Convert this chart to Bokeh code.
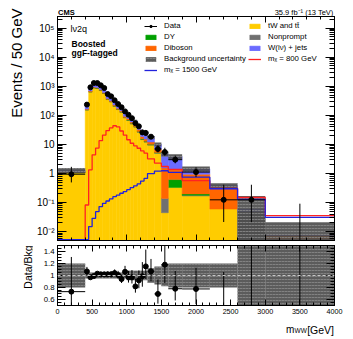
import math
import numpy as np
from bokeh.plotting import figure
from bokeh.layouts import column, row
from bokeh.models import (ColumnDataSource, Range1d, FixedTicker, CustomJSTickFormatter,
                          LinearAxis, LogAxis, Legend, LegendItem, Label, Span)
from bokeh.embed import file_html
from bokeh.resources import INLINE

# ------------------------------------------------------------------ data
bin_edges = [0, 400, 450, 500, 550, 600, 650, 700, 750, 800, 850, 900, 950, 1000,
             1050, 1100, 1150, 1200, 1250, 1300, 1400, 1500, 1600, 1800, 2200, 2600, 3000, 4000]

# data (events / 50 GeV) and raw event counts
data_values = [0.95, 234, 920, 1290, 1290, 1080, 870, 540, 450, 330, 245, 190, 137, 105,
               80, 54, 42, 26, 25, 18.5, 7, 5.5, 3.0, 1.125, 0.125, 0.125, 0]
data_counts = [4, 234, 920, 1290, 1290, 1080, 870, 540, 450, 330, 245, 190, 137, 105,
               80, 54, 42, 26, 25, 37, 14, 11, 12, 9, 1, 1, 0]

bkg_ttbar = [1.05, 153, 635, 873, 839, 710, 563, 349, 291, 206, 158, 129, 82.6, 67,
             51, 39.6, 26.5, 14.7, 12.1, 9.5, 5.0, 0.045, 0.33, 0.17, 0.06, 0.0, 0.0]
bkg_nonprompt = [0.02, 2.2, 9.5, 13, 12.5, 10.5, 8.5, 5.3, 4.4, 3.2, 2.4, 2.0, 1.3, 1.1,
                 0.8, 0.7, 0.5, 0.3, 0.2, 0.2, 0.1, 0.095, 0.0, 0.01, 0.0, 0.05, 0.0056]
bkg_dy = [0.01, 2.2, 9.5, 13, 12.5, 10.5, 8.5, 5.3, 4.4, 3.2, 2.4, 2.0, 1.3, 1.6,
          1.3, 1.3, 0.9, 0.8, 0.6, 0.4, 0.2, 0.0, 0.29, 0.02, 0.0, 0.0, 0.0]
bkg_diboson = [0.04, 6.6, 38, 52, 50, 42, 34, 21.4, 17.6, 15.8, 12.2, 12.1, 7.7, 8.1,
               6.3, 5.9, 4.6, 2.9, 2.4, 2.1, 1.6, 1.42, 0.75, 0.75, 0.24, 0.0, 0.0017]
bkg_wjets = [0.18, 55, 256, 352, 338, 286, 239, 148, 123.6, 88.8, 68, 56.9, 36.1, 30.2,
             23.1, 18.5, 13.2, 7.6, 6.4, 5.1, 3.2, 3.1, 2.48, 0.5, 0.09, 0.01, 0.0002]
bkg_rel_unc = [0.2, 0.05, 0.05, 0.05, 0.05, 0.05, 0.05, 0.05, 0.05, 0.05, 0.05, 0.05, 0.05,
               0.08, 0.08, 0.08, 0.08, 0.08, 0.08, 0.12, 0.15, 0.18, 0.2, 0.2, 0.2, 1.83, 1.8]

signal_800 = [0, 0.083, 1.34, 4.4, 7.5, 13.5, 21, 30, 37, 44, 40, 29, 21, 14.5,
              11, 9, 7.4, 6, 5, 3.2, 2.3, 1.75, 1.4, 0.57, 0.31, 0.15, 0.036]
signal_1500 = [0, 0, 0.015, 0.029, 0.049, 0.073, 0.095, 0.114, 0.134, 0.16, 0.18, 0.21, 0.24, 0.28,
               0.33, 0.38, 0.44, 0.55, 0.68, 1.0, 1.22, 1.25, 1.1, 0.75, 0.3, 0.13, 0.031]

x_major_main = [0, 1000, 2000, 3000, 4000]
x_major_ratio = [0, 500, 1000, 1500, 2000, 2500, 3000, 3500, 4000]
x_tick_labels = ["0", "500", "1000", "1500", "2000", "2500", "3000", "3500", "4000"]
y_tick_values = [0.01, 0.1, 1, 10, 100, 1000, 10000, 100000]
y_tick_labels = ["10\u207b\u00b2", "10\u207b\u00b9", "1", "10", "10\u00b2", "10\u00b3", "10\u2074", "10\u2075"]
ratio_tick_values = [0.6, 0.8, 1.0, 1.2, 1.4]
ratio_tick_labels = ["0.6", "0.8", "1", "1.2", "1.4"]

# Garwood 68% intervals for small counts
garwood_lo = [0.0, 0.173, 0.708, 1.367, 2.086, 2.840, 3.620, 4.419, 5.232, 6.057, 6.891]
garwood_hi = [1.841, 3.300, 4.638, 5.918, 7.163, 8.382, 9.584, 10.77, 11.95, 13.11, 14.27]

# ------------------------------------------------------------------ derived
FONT = "Liberation Sans"
C_TT, C_NP, C_DY, C_VV, C_WJ = "#ffcc00", "#707070", "#00a000", "#ff6600", "#6b6bff"
C_BAND, C_HATCH, C_S800, C_S1500 = "#4a4a4a", "#8c8c8c", "#ff2222", "#2222dd"
YMIN, YMAX = 0.005, 2.5e5
FLOOR = 1e-4

edges = np.array(bin_edges, float)
left, right = edges[:-1], edges[1:]
center, width = 0.5 * (left + right), right - left

comps = [np.array(bkg_ttbar, float), np.array(bkg_nonprompt, float), np.array(bkg_dy, float),
         np.array(bkg_diboson, float), np.array(bkg_wjets, float)]
total = sum(comps)
unc = total * np.array(bkg_rel_unc)


def interval(n):
    if n <= 10:
        return garwood_lo[n], garwood_hi[n]
    return n - math.sqrt(n + 0.25) + 0.5, n + math.sqrt(n + 0.75) + 1.0


vals = np.array(data_values, float)
err_lo, err_hi, pt_y, r_y, r_lo, r_hi = [], [], [], [], [], []
for v, n, w, b in zip(vals, data_counts, width, total):
    lo, hi = interval(n)
    s = v / n if n > 0 else 50.0 / w
    err_lo.append(max(lo * s, FLOOR))
    err_hi.append(hi * s)
    pt_y.append(v if v > 0 else np.nan)
    r_y.append(v / b if v > 0 else np.nan)
    r_lo.append(lo * s / b)
    r_hi.append(hi * s / b)

# ------------------------------------------------------------------ helpers
def fixed_fmt(values, labels, log=False):
    code = """
    let best = 0, d = 1e99;
    for (let i = 0; i < vals.length; i++) {
        const dd = LOG ? Math.abs(Math.log10(tick) - Math.log10(vals[i])) : Math.abs(tick - vals[i]);
        if (dd < d) { d = dd; best = i; }
    }
    return labs[best];
    """.replace("LOG", "true" if log else "false")
    return CustomJSTickFormatter(args=dict(vals=values, labs=labels), code=code)


def style_axis(ax, tin, mtin, size, labels=True):
    ax.major_tick_in = tin
    ax.major_tick_out = 0
    ax.minor_tick_in = mtin
    ax.minor_tick_out = 0
    ax.axis_line_color = "black"
    ax.major_tick_line_color = "black"
    ax.minor_tick_line_color = "black"
    ax.major_label_text_font = FONT
    ax.major_label_text_color = "black"
    ax.major_label_text_font_size = size if labels else "0px"
    ax.major_label_standoff = 3 if labels else 0
    ax.axis_label = None
    if not labels:
        ax.formatter = CustomJSTickFormatter(code="return ''")


def slabel(fig, x, y, text, size, **kw):
    fig.add_layout(Label(x=x, y=y, x_units="screen", y_units="screen", text=text,
                         text_font=FONT, text_font_size=size, text_color="black", **kw))


def text_canvas(w, h, left_b=0, right_b=0):
    f = figure(width=w, height=h, x_range=Range1d(0, w), y_range=Range1d(0, h),
               output_backend="svg", toolbar_location=None, min_border=0,
               min_border_left=left_b, min_border_right=right_b,
               x_axis_location=None, y_axis_location=None)
    f.grid.visible = False
    f.outline_line_color = None
    f.background_fill_color = "white"
    f.border_fill_color = "white"
    return f


def frame_fig(h, yr, log, top, bottom):
    f = figure(width=315, height=h, x_range=xr, y_range=yr,
               y_axis_type="log" if log else "linear", output_backend="svg",
               toolbar_location=None, min_border_left=24, min_border_right=14,
               min_border_top=top, min_border_bottom=bottom)
    f.grid.visible = False
    f.outline_line_color = "black"
    f.background_fill_color = "white"
    f.border_fill_color = "white"
    return f


xr = Range1d(0, 4000)

# ------------------------------------------------------------------ main panel
p = frame_fig(225, Range1d(YMIN, YMAX), True, 0, 1)

stack_colors = [C_TT, C_NP, C_DY, C_VV, C_WJ]
stack_r = []
cum = np.full(len(total), FLOOR)
for comp, col in zip(comps, stack_colors):
    top = cum + comp
    m = comp > 0
    src = ColumnDataSource(dict(l=left[m], r=right[m], b=cum[m], t=top[m]))
    stack_r.append(p.quad(left="l", right="r", bottom="b", top="t", source=src,
                          fill_color=col, line_color=col, line_width=0.5))
    cum = top

band_src = ColumnDataSource(dict(l=left, r=right, b=np.maximum(total - unc, FLOOR), t=total + unc))
band_r = p.quad(left="l", right="r", bottom="b", top="t", source=band_src, fill_color=C_BAND,
                fill_alpha=0.9, line_color=None, hatch_pattern="horizontal_dash",
                hatch_color=C_HATCH, hatch_scale=3, hatch_weight=0.8)

line_floor = YMIN * 1.08
s800 = [v if v > 0 else line_floor for v in signal_800]
s1500 = [v if v > 0 else line_floor for v in signal_1500]
r800 = p.step(x=list(edges), y=s800 + [s800[-1]], mode="after", line_color=C_S800, line_width=1.3)
r1500 = p.step(x=list(edges), y=s1500 + [s1500[-1]], mode="after", line_color=C_S1500, line_width=1.3)

dsrc = ColumnDataSource(dict(x=center, l=left, r=right, y=pt_y, lo=err_lo, hi=err_hi))
r_err = p.segment(x0="x", x1="x", y0="lo", y1="hi", source=dsrc, line_color="black", line_width=1)
p.segment(x0="l", x1="r", y0="y", y1="y", source=dsrc, line_color="black", line_width=1)
r_pts = p.scatter(x="x", y="y", source=dsrc, size=5, marker="circle", color="black")

p.xaxis.ticker = FixedTicker(ticks=x_major_main, minor_ticks=list(range(0, 4001, 200)))
style_axis(p.xaxis[0], 6, 3, "0px", labels=False)
y_minor = [k * 10.0 ** e for e in range(-3, 6) for k in range(2, 10) if YMIN <= k * 10.0 ** e <= YMAX]
p.yaxis.ticker = FixedTicker(ticks=y_tick_values, minor_ticks=y_minor)
style_axis(p.yaxis[0], 9, 5, "10px")
p.yaxis.formatter = fixed_fmt(y_tick_values, y_tick_labels, log=True)

ax_r = LogAxis(ticker=FixedTicker(ticks=y_tick_values, minor_ticks=y_minor))
style_axis(ax_r, 9, 5, "0px", labels=False)
p.add_layout(ax_r, "right")
ax_t = LinearAxis(ticker=FixedTicker(ticks=x_major_main, minor_ticks=list(range(0, 4001, 200))))
style_axis(ax_t, 6, 3, "0px", labels=False)
p.add_layout(ax_t, "above")


def mk_legend(items, loc):
    lg = Legend(items=items, location=loc, orientation="vertical", padding=0, margin=0,
                spacing=2, glyph_width=13, glyph_height=6, label_standoff=7, label_height=8,
                label_text_font=FONT, label_text_font_size="7.8px", label_text_color="black",
                border_line_alpha=0, background_fill_alpha=0)
    p.add_layout(lg)


mk_legend([LegendItem(label="Data", renderers=[r_err, r_pts]),
           LegendItem(label="DY", renderers=[stack_r[2]]),
           LegendItem(label="Diboson", renderers=[stack_r[3]]),
           LegendItem(label="Background uncertainty", renderers=[band_r]),
           LegendItem(label="m\u2093 = 1500 GeV", renderers=[r1500])], (87, 166))
mk_legend([LegendItem(label="tW and t\u0074\u0304", renderers=[stack_r[0]]),
           LegendItem(label="Nonprompt", renderers=[stack_r[1]]),
           LegendItem(label="W(l\u03bd) + jets", renderers=[stack_r[4]]),
           LegendItem(label="m\u2093 = 800 GeV", renderers=[r800])], (191, 177))

slabel(p, 13, 212, "l\u03bd2q", "9px", text_baseline="alphabetic")
slabel(p, 14, 196.7, "Boosted", "8.5px", text_font_style="bold", text_baseline="alphabetic")
slabel(p, 14, 187.7, "ggF-tagged", "8.5px", text_font_style="bold", text_baseline="alphabetic")

# ------------------------------------------------------------------ ratio panel
rp = frame_fig(77, Range1d(0.5, 1.5), False, 4, 13)

rel = np.array(bkg_rel_unc)
rsrc = ColumnDataSource(dict(l=left, r=right, b=1 - rel, t=1 + rel))
rp.quad(left="l", right="r", bottom="b", top="t", source=rsrc, fill_color=C_BAND, fill_alpha=0.9,
        line_color=None, hatch_pattern="horizontal_dash", hatch_color=C_HATCH,
        hatch_scale=3, hatch_weight=0.8)
rp.add_layout(Span(location=1.0, dimension="width", line_color="#c8c8c8", line_dash="3 2",
                   line_width=1))

rdsrc = ColumnDataSource(dict(x=center, l=left, r=right, y=r_y, lo=r_lo, hi=r_hi))
rp.segment(x0="x", x1="x", y0="lo", y1="hi", source=rdsrc, line_color="black", line_width=1)
rp.segment(x0="l", x1="r", y0="y", y1="y", source=rdsrc, line_color="black", line_width=1)
rp.scatter(x="x", y="y", source=rdsrc, size=5, marker="circle", color="black")

rp.xaxis.ticker = FixedTicker(ticks=x_major_ratio, minor_ticks=list(range(0, 4001, 100)))
style_axis(rp.xaxis[0], 6, 3, "7.2px")
rp.xaxis.formatter = fixed_fmt(x_major_ratio, x_tick_labels)
r_minor = [round(0.5 + 0.05 * i, 2) for i in range(21)]
rp.yaxis.ticker = FixedTicker(ticks=ratio_tick_values, minor_ticks=r_minor)
style_axis(rp.yaxis[0], 8, 4, "7.8px")
rp.yaxis.formatter = fixed_fmt(ratio_tick_values, ratio_tick_labels)

ax_rr = LinearAxis(ticker=FixedTicker(ticks=ratio_tick_values, minor_ticks=r_minor))
style_axis(ax_rr, 8, 4, "0px", labels=False)
rp.add_layout(ax_rr, "right")
ax_rt = LinearAxis(ticker=FixedTicker(ticks=x_major_ratio, minor_ticks=list(range(0, 4001, 100))))
style_axis(ax_rt, 6, 3, "0px", labels=False)
rp.add_layout(ax_rt, "above")

# ------------------------------------------------------------------ text canvases
# (their frames are aligned with the panels' frames inside the column: x = 0 is the frame's left edge)
header = text_canvas(315, 16, 24, 14)
slabel(header, 0.5, 4.3, "CMS", "7.5px", text_font_style="bold", text_baseline="alphabetic")
slabel(header, 276, 4.3, "35.9 fb\u207b\u00b9 (13 TeV)", "7.5px", text_align="right",
       text_baseline="alphabetic")

footer = text_canvas(315, 18, 24, 14)
slabel(footer, 228.5, 7, "m", "10px", text_baseline="alphabetic")
slabel(footer, 237, 5.7, "WW", "6.5px", text_baseline="alphabetic")
slabel(footer, 276.5, 6.3, "[GeV]", "10.5px", text_align="right", text_baseline="alphabetic")

side = text_canvas(33, 336)
slabel(side, 16, 328, "Events / 50 GeV", "15px", angle=math.pi / 2, text_align="right",
       text_baseline="middle")
slabel(side, 27, 91, "Data/Bkg", "10.5px", angle=math.pi / 2, text_align="right",
       text_baseline="middle")

layout = row(side, column(header, p, rp, footer, spacing=0), spacing=0)
open("out.html", "w").write(file_html(layout, INLINE))
